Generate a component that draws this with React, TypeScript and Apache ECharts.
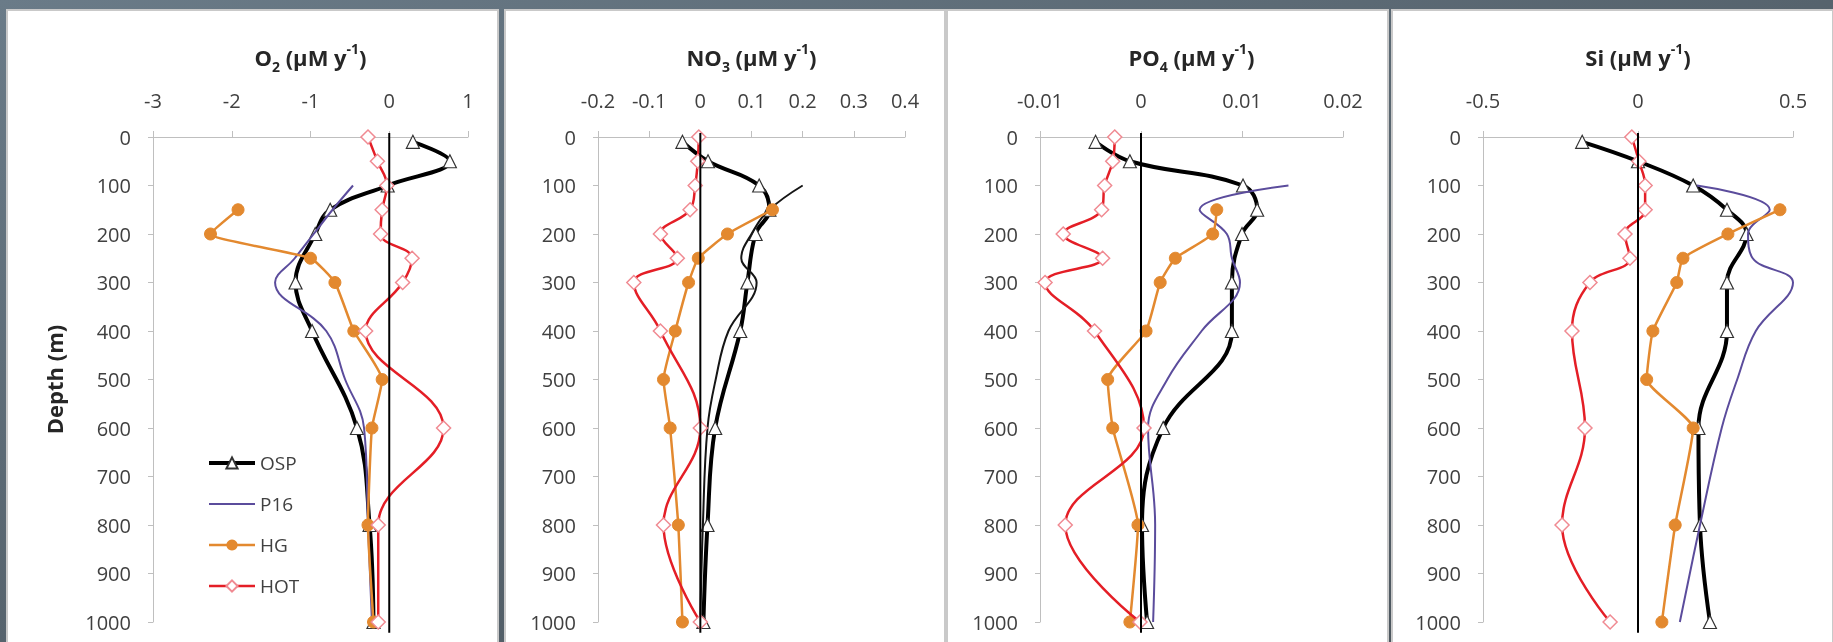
import React, { useEffect, useRef } from "react";
import * as echarts from "echarts";

// ---- depths (m) at which each station has values ----
const OSP_DEPTH = [10, 50, 100, 150, 200, 300, 400, 600, 800, 1000];
const P16_DEPTH = [100, 150, 200, 250, 300, 400, 500, 600, 800, 1000];
const HG_DEPTH = [150, 200, 250, 300, 400, 500, 600, 800, 1000];
const HOT_DEPTH = [0, 50, 100, 150, 200, 250, 300, 400, 600, 800, 1000];
const ZERO_LINE_DEPTH = [-8, 1022];

// ---- O2 (µM y-1) ----
const O2_OSP = [0.3, 0.77, -0.02, -0.75, -0.94, -1.19, -0.98, -0.41, -0.25, -0.2];
const O2_P16 = [-0.46, -0.72, -0.96, -1.2, -1.45, -0.8, -0.56, -0.32, -0.27, -0.22];
const O2_HG = [-1.92, -2.27, -1.0, -0.69, -0.45, -0.09, -0.22, -0.27, -0.2];
const O2_HOT = [-0.27, -0.15, -0.03, -0.09, -0.11, 0.29, 0.17, -0.3, 0.69, -0.14, -0.14];

// ---- NO3 (µM y-1) ----
const NO3_OSP = [-0.035, 0.015, 0.115, 0.135, 0.108, 0.092, 0.078, 0.029, 0.014, 0.006];
const NO3_P16 = [0.2, 0.135, 0.1, 0.08, 0.11, 0.055, 0.03, 0.014, 0.005, 0.0];
const NO3_HG = [0.141, 0.053, -0.004, -0.023, -0.049, -0.072, -0.059, -0.043, -0.035];
const NO3_HOT = [-0.003, -0.005, -0.01, -0.02, -0.078, -0.045, -0.13, -0.078, 0.0, -0.072, 0.0];

// ---- PO4 (µM y-1) ----
const PO4_OSP = [-0.0045, -0.0011, 0.0101, 0.0115, 0.01, 0.009, 0.009, 0.0022, 0.0001, 0.0006];
const PO4_P16 = [0.0146, 0.0058, 0.0085, 0.009, 0.0098, 0.006, 0.0026, 0.0007, 0.0014, 0.0012];
const PO4_HG = [0.0075, 0.0071, 0.0034, 0.0019, 0.0005, -0.0033, -0.0028, -0.0003, -0.0011];
const PO4_HOT = [-0.0026, -0.0028, -0.0036, -0.0039, -0.0077, -0.0038, -0.0095, -0.0046, 0.0003, -0.0075, -0.0001];

// ---- Si (µM y-1) ----
const SI_OSP = [-0.18, 0.0, 0.178, 0.287, 0.35, 0.287, 0.287, 0.195, 0.2, 0.232];
const SI_P16 = [0.19, 0.425, 0.355, 0.37, 0.5, 0.38, 0.32, 0.27, 0.2, 0.135];
const SI_HG = [0.458, 0.29, 0.145, 0.125, 0.048, 0.028, 0.178, 0.12, 0.077];
const SI_HOT = [-0.02, 0.003, 0.023, 0.023, -0.042, -0.026, -0.155, -0.213, -0.171, -0.245, -0.09];

// ---- axes ----
const X_MIN = [-3, -0.2, -0.01, -0.5];
const X_MAX = [1, 0.4, 0.02, 0.5];
const X_STEP = [1, 0.1, 0.01, 0.5];
const Y_MIN = 0;
const Y_MAX = 1000;
const Y_STEP = 100;
const TITLES = [
  "{b|O}{s|2}{b| (µM y}{p|-1}{b|)}",
  "{b|NO}{s|3}{b| (µM y}{p|-1}{b|)}",
  "{b|PO}{s|4}{b| (µM y}{p|-1}{b|)}",
  "{b|Si (µM y}{p|-1}{b|)}",
];
const Y_NAME = "Depth (m)";
const SERIES_NAMES = ["OSP", "P16", "HG", "HOT"];

const PANEL_DATA = [
  [O2_OSP, O2_P16, O2_HG, O2_HOT],
  [NO3_OSP, NO3_P16, NO3_HG, NO3_HOT],
  [PO4_OSP, PO4_P16, PO4_HG, PO4_HOT],
  [SI_OSP, SI_P16, SI_HG, SI_HOT],
];
const DEPTHS = [OSP_DEPTH, P16_DEPTH, HG_DEPTH, HOT_DEPTH];

// ---- layout / style ----
const W = 1833;
const H = 642;
const GRID_LEFT = [153, 598, 1040, 1483];
const GRID_WIDTH = [315, 307, 303, 310];
const GRID_TOP = 137;
const GRID_HEIGHT = 485;
const PANEL_RECTS = [
  [7, 10, 491, 640],
  [505, 10, 440, 640],
  [947, 10, 441, 640],
  [1392, 10, 441, 640],
];
const FONT = '"Open Sans", "Noto Sans", sans-serif';
const AXIS_GRAY = "#bfbfbf";
const TEXT = "#404040";
const P16_COLORS = ["#5b4c9c", "#151515", "#5b4c9c", "#5b4c9c"];
const LINE_WIDTHS = [4, 2, 2.5, 2.5];
// a plain line icon (tiny corner dots keep the full 46x14 box so it is not stretched)
const LINE_ICON = "path://M0,0h0.01v0.01h-0.01Z M0,6H46V8H0Z M46,14h-0.01v-0.01h0.01Z";

function pairs(depths: number[], vals: number[]) {
  return depths.map((d, i) => [vals[i], d]);
}

function buildOption() {
  const grid: any[] = [];
  const xAxis: any[] = [];
  const yAxis: any[] = [];
  const series: any[] = [];
  const graphic: any[] = [
    {
      type: "rect",
      z: -10,
      shape: { x: 0, y: 0, width: W, height: H },
      style: {
        fill: new echarts.graphic.LinearGradient(0, 0, 1, 1, [
          { offset: 0, color: "#6a7b88" },
          { offset: 0.5, color: "#56636d" },
          { offset: 1, color: "#4a535a" },
        ]),
      },
    },
  ];
  PANEL_RECTS.forEach((r) => {
    graphic.push({
      type: "rect",
      z: -9,
      shape: { x: r[0], y: r[1], width: r[2], height: r[3] },
      style: { fill: "#ffffff", stroke: "#c9c9c9", lineWidth: 2 },
    });
  });

  for (let p = 0; p < 4; p++) {
    grid.push({ left: GRID_LEFT[p], top: GRID_TOP, width: GRID_WIDTH[p], height: GRID_HEIGHT });
    xAxis.push({
      gridIndex: p,
      type: "value",
      position: "top",
      min: X_MIN[p],
      max: X_MAX[p],
      interval: X_STEP[p],
      name: TITLES[p],
      nameLocation: "middle",
      nameGap: 64,
      nameTextStyle: {
        rich: {
          b: { fontSize: 22, fontWeight: "bold", fontFamily: FONT, color: "#262626", lineHeight: 32 },
          s: { fontSize: 14, fontWeight: "bold", fontFamily: FONT, color: "#262626", verticalAlign: "bottom", lineHeight: 16 },
          p: { fontSize: 14, fontWeight: "bold", fontFamily: FONT, color: "#262626", verticalAlign: "top", lineHeight: 16 },
        },
      },
      axisLine: { show: true, onZero: false, lineStyle: { color: AXIS_GRAY, width: 1 } },
      axisTick: { show: true, inside: false, length: 6, lineStyle: { color: AXIS_GRAY } },
      splitLine: { show: false },
      axisLabel: { fontSize: 20, fontFamily: FONT, color: TEXT, margin: 27, formatter: (v: number) => String(v) },
    });
    yAxis.push({
      gridIndex: p,
      type: "value",
      inverse: true,
      min: Y_MIN,
      max: Y_MAX,
      interval: Y_STEP,
      name: p === 0 ? Y_NAME : "",
      nameLocation: "middle",
      nameRotate: 90,
      nameGap: 88,
      nameTextStyle: { fontSize: 22, fontWeight: "bold", fontFamily: FONT, color: "#262626" },
      axisLine: { show: true, onZero: false, lineStyle: { color: AXIS_GRAY, width: 1 } },
      axisTick: { show: true, inside: false, length: 5, lineStyle: { color: AXIS_GRAY } },
      splitLine: { show: false },
      axisLabel: { fontSize: 20, fontFamily: FONT, color: TEXT, margin: 22, formatter: (v: number) => String(v) },
    });

    const [osp, p16, hg, hot] = PANEL_DATA[p];
    series.push({
      name: "OSP",
      type: "line",
      xAxisIndex: p,
      yAxisIndex: p,
      data: pairs(DEPTHS[0], osp),
      smooth: 0.4,
      symbol: "triangle",
      symbolSize: 13,
      lineStyle: { color: "#000000", width: LINE_WIDTHS[0] },
      itemStyle: { color: "#ffffff", borderColor: "#333333", borderWidth: 1.2 },
      z: 3,
    });
    series.push({
      name: "P16",
      type: "line",
      xAxisIndex: p,
      yAxisIndex: p,
      data: pairs(DEPTHS[1], p16),
      smooth: 0.4,
      symbol: "none",
      lineStyle: { color: P16_COLORS[p], width: LINE_WIDTHS[1] },
      itemStyle: { color: P16_COLORS[p] },
      z: 4,
    });
    series.push({
      name: "HG",
      type: "line",
      xAxisIndex: p,
      yAxisIndex: p,
      data: pairs(DEPTHS[2], hg),
      smooth: 0.15,
      symbol: "circle",
      symbolSize: 12,
      lineStyle: { color: "#e3892f", width: LINE_WIDTHS[2] },
      itemStyle: { color: "#e3892f", borderColor: "#e3892f" },
      z: 5,
    });
    series.push({
      name: "HOT",
      type: "line",
      xAxisIndex: p,
      yAxisIndex: p,
      data: pairs(DEPTHS[3], hot),
      smooth: 0.4,
      symbol: "diamond",
      symbolSize: 14,
      lineStyle: { color: "#e41e26", width: LINE_WIDTHS[3] },
      itemStyle: { color: "#ffffff", borderColor: "#f08a92", borderWidth: 1.5 },
      z: 6,
    });
    series.push({
      name: "zero",
      type: "line",
      xAxisIndex: p,
      yAxisIndex: p,
      data: ZERO_LINE_DEPTH.map((d) => [0, d]),
      symbol: "none",
      clip: false,
      silent: true,
      lineStyle: { color: "#000000", width: 2 },
      z: 7,
    });
  }

  return {
    animation: false,
    graphic,
    grid,
    xAxis,
    yAxis,
    series,
    legend: {
      data: SERIES_NAMES.map((name, i) =>
        name === "P16"
          ? { name, icon: LINE_ICON, itemStyle: { color: P16_COLORS[0] } }
          : { name, lineStyle: { width: LINE_WIDTHS[i] } }
      ),
      orient: "vertical",
      left: 202,
      top: 448,
      itemWidth: 46,
      itemHeight: 14,
      itemGap: 21,
      selectedMode: false,
      textStyle: { fontSize: 19, fontFamily: FONT, color: TEXT, lineHeight: 20 },
    },
  };
}

export default function App() {
  const ref = useRef<HTMLDivElement>(null);
  useEffect(() => {
    if (!ref.current) return;
    const chart = echarts.init(ref.current, undefined, { renderer: "svg" });
    chart.setOption(buildOption() as any);
    return () => chart.dispose();
  }, []);
  return (
    <div
      ref={ref}
      style={{ position: "fixed", left: 0, top: 0, width: W, height: H }}
    />
  );
}
